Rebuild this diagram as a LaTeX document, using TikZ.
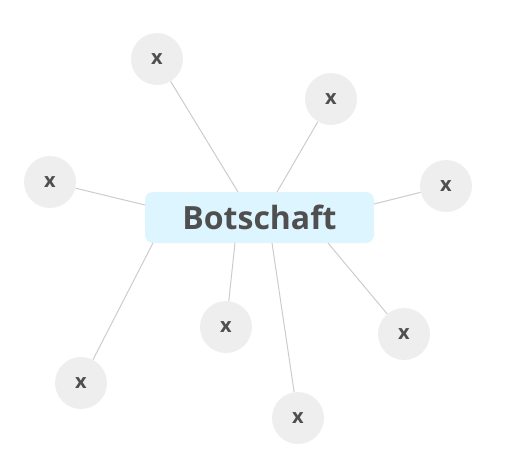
\documentclass[tikz,border=0pt]{standalone}
\usepackage{fontspec}
\setmainfont{Open Sans}
\definecolor{boxfill}{HTML}{DDF5FE}
\definecolor{circfill}{HTML}{EEEEEE}
\definecolor{txt}{HTML}{4F4F4F}
\definecolor{edge}{HTML}{CCCCCC}
\begin{document}
\begin{tikzpicture}[x=0.75pt,y=-0.75pt,
  topic/.style={fill=boxfill,draw=none,rounded corners=6pt,minimum width=171.75pt,minimum height=38.25pt,inner sep=0pt,font=\fontsize{24}{27}\selectfont\bfseries,text=txt},
  leaf/.style={circle,fill=circfill,draw=none,minimum size=39pt,inner sep=0pt,font=\fontsize{15}{17}\selectfont\bfseries,text=txt},
  link/.style={draw=edge,line width=0.75pt}]
\useasboundingbox (0,0) rectangle (519,469);
\node[topic] (b) at (259.5,217.5) {Botschaft};
\node[leaf] (c1) at (157,59) {x};
\node[leaf] (c2) at (331,99) {x};
\node[leaf] (c3) at (50,182) {x};
\node[leaf] (c4) at (446,186) {x};
\node[leaf] (c5) at (226,327) {x};
\node[leaf] (c6) at (404,334) {x};
\node[leaf] (c7) at (81,383) {x};
\node[leaf] (c8) at (298,418) {x};
\coordinate (e1) at (238,192);
\coordinate (e2) at (277,192);
\coordinate (e3) at (145,205);
\coordinate (e4) at (374,204);
\coordinate (e5) at (235,243);
\coordinate (e6) at (328,243);
\coordinate (e7) at (153,243);
\coordinate (e8) at (272,243);
\foreach \i in {1,...,8} {\draw[link] (c\i) -- (e\i);}
\end{tikzpicture}
\end{document}
